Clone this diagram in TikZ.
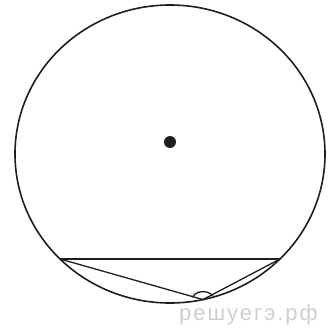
\documentclass[tikz,border=0pt]{standalone}
\usepackage{fontspec}
\newfontfamily\wmfont[LetterSpace=9]{Liberation Sans}
\usepackage{tikz}
\usetikzlibrary{calc}
\definecolor{cink}{HTML}{1E1E1E}
\definecolor{cmark}{HTML}{CFCFCF}
\tikzset{
  rim/.style={draw=cink,line width=1.6pt},
  seg/.style={draw=cink,line width=1.3pt},
  wmark/.style={font=\wmfont\fontsize{22}{22}\selectfont,text=cmark,inner sep=0pt},
}
\begin{document}
\begin{tikzpicture}[x=1pt,y=1pt]
\useasboundingbox (0,0) rectangle (328,330);

% ================= circle and its centre =================
\coordinate (O) at (170,176);
\draw[rim] (O) ellipse [x radius=155,y radius=149];
\fill[cink] (170,188) circle (6);

% ================= chord and inscribed angle =================
\coordinate (A) at ($(O)+(224.8:155 and 149)$);
\coordinate (B) at ($(O)+(315.2:155 and 149)$);
\coordinate (C) at ($(O)+(282.3:155 and 149)$);
\draw[seg] (A) -- (B);
\draw[seg] (A) -- (C) -- (B);
\draw[seg] ([shift={(27:11 and 8)}]C) arc [start angle=27,end angle=164,x radius=11,y radius=8];

% ================= watermark =================
\node[wmark,anchor=south east] (wm) at (318,5) {решуегэ.рф};

\end{tikzpicture}
\end{document}
